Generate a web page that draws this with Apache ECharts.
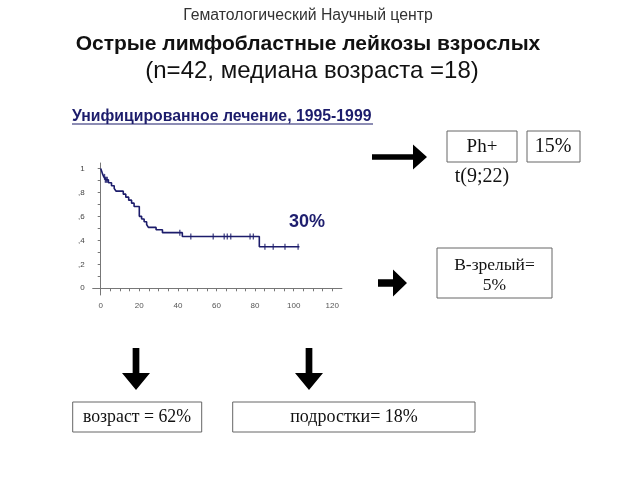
<!DOCTYPE html>
<html><head><meta charset="utf-8">
<script src="https://cdn.jsdelivr.net/npm/echarts@6/dist/echarts.min.js"></script>
<style>html,body{margin:0;padding:0;background:#fff}#c{width:640px;height:480px}</style>
</head><body><div id="c"></div>
<script>
// Kaplan–Meier step points: [months, survival]
var kmTimes = [0, 0.5, 1.0, 1.6, 2.6, 4.0, 5.6, 7.0, 8.0, 11.7, 13.0, 14.5, 16.0, 17.3, 20.0, 21.2, 22.5, 23.8, 24.7, 28.7, 32.0, 42.3, 82.2, 103.0];
var kmSurv  = [1.0, 0.976, 0.952, 0.929, 0.905, 0.88, 0.855, 0.832, 0.81, 0.785, 0.76, 0.735, 0.71, 0.682, 0.6, 0.578, 0.555, 0.532, 0.508, 0.488, 0.464, 0.432, 0.347, 0.347];
// censored observations
var censorTimes = [2.0, 2.4, 2.9, 3.4, 41.0, 46.7, 58.3, 64.0, 65.6, 67.4, 77.4, 79.1, 85.1, 89.4, 95.5, 102.3];
var censorSurv  = [0.929, 0.905, 0.905, 0.905, 0.464, 0.432, 0.432, 0.432, 0.432, 0.432, 0.432, 0.432, 0.347, 0.347, 0.347, 0.347];
var xLabelValues = [0, 20, 40, 60, 80, 100, 120];
var xTickValues = [0,5,10,15,20,25,30,35,40,45,50,55,60,65,70,75,80,85,90,95,100,105,110,115,120];
var yLabelValues = [0, 0.2, 0.4, 0.6, 0.8, 1];
var yLabelTexts = ['0', ',2', ',4', ',6', ',8', '1'];
var yTickValues = [0,0.1,0.2,0.3,0.4,0.5,0.6,0.7,0.8,0.9,1];

var kmData = kmTimes.map(function(t,i){return [t, kmSurv[i]];});
var censorData = censorTimes.map(function(t,i){return [t, censorSurv[i]];});

var navy = '#1c1c6b';
var sans = 'Liberation Sans, Arial, sans-serif';
var serif = 'Liberation Serif, Times New Roman, serif';

function box(x,y,w,h){return {type:'rect',shape:{x:x,y:y,width:w,height:h},style:{fill:'#fff',stroke:'#666',lineWidth:1}};}
function txt(x,y,s,fs,opt){opt=opt||{};return {type:'text',x:x,y:y,style:{text:s,fontSize:fs,fontFamily:opt.ff||serif,fontWeight:opt.fw||'normal',fill:opt.fill||'#111',textAlign:opt.align||'center',textVerticalAlign:'middle'}};}
function arrowRight(x0,x1,x2,cy,sh,hh){return {type:'polygon',shape:{points:[[x0,cy-sh/2],[x1,cy-sh/2],[x1,cy-hh/2],[x2,cy],[x1,cy+hh/2],[x1,cy+sh/2],[x0,cy+sh/2]]},style:{fill:'#000'}};}
function arrowDown(cx,y0,y1,y2,sw,hw){return {type:'polygon',shape:{points:[[cx-sw/2,y0],[cx+sw/2,y0],[cx+sw/2,y1],[cx+hw/2,y1],[cx,y2],[cx-hw/2,y1],[cx-sw/2,y1]]},style:{fill:'#000'}};}

var chart = echarts.init(document.getElementById('c'));
chart.setOption({
  animation:false,
  backgroundColor:'#fff',
  grid:{left:92.7, top:163, width:249.2, height:132},
  xAxis:{type:'value', min:-4.15, max:125, splitLine:{show:false},
    axisLine:{lineStyle:{color:'#777',width:1}},
    axisTick:{customValues:xTickValues,length:3,lineStyle:{color:'#777'}},
    axisLabel:{customValues:xLabelValues,fontSize:8,color:'#555',margin:7,fontFamily:sans}},
  yAxis:{type:'value', min:-0.056, max:1.045, splitLine:{show:false},
    axisLine:{show:true,lineStyle:{color:'#777',width:1}},
    axisTick:{show:true,customValues:yTickValues,length:3,lineStyle:{color:'#777'}},
    axisLabel:{customValues:yLabelValues,fontSize:8,color:'#444',margin:8,fontFamily:sans,
      formatter:function(v){var i=yLabelValues.indexOf(v);return i>=0?yLabelTexts[i]:'';}}},
  series:[
    {type:'line', step:'end', data:kmData, symbol:'none', lineStyle:{color:navy,width:1.6}},
    {type:'scatter', data:censorData, symbol:'rect', symbolSize:[1.3,6], itemStyle:{color:navy}}
  ],
  graphic:[
    txt(308,16,'Гематологический Научный центр',15.8,{ff:sans,fill:'#333'}),
    txt(308,44.5,'Острые лимфобластные лейкозы взрослых',21,{ff:sans,fw:'bold',fill:'#111'}),
    txt(312,71,'(n=42, медиана возраста =18)',24,{ff:sans,fill:'#111'}),
    txt(72,117,'Унифицированное лечение, 1995-1999',15.8,{ff:sans,fw:'bold',fill:navy,align:'left'}),
    {type:'line',shape:{x1:72,y1:124,x2:373,y2:124},style:{stroke:navy,lineWidth:1.2}},
    txt(307,222,'30%',18,{ff:sans,fw:'bold',fill:'#1e1e6e'}),
    arrowRight(372,413,427,157,5.5,25),
    box(447,131,70,31), txt(482,147,'Ph+',19),
    box(527,131,53,31), txt(553,147,'15%',20),
    txt(482,177,'t(9;22)',20,{}),
    arrowRight(378,393,407,283,7.5,27),
    box(437,248,115,50), txt(494.5,265,'B-зрелый=',17.5), txt(494.5,285,'5%',17.5),
    arrowDown(136,348,373,390,6.7,28),
    arrowDown(309,348,373,390,6.7,28),
    box(72.7,402,129,30), txt(137,417,'возраст = 62%',17.8),
    box(232.7,402,242.3,30), txt(354,417,'подростки= 18%',18)
  ]
});
</script></body></html>
